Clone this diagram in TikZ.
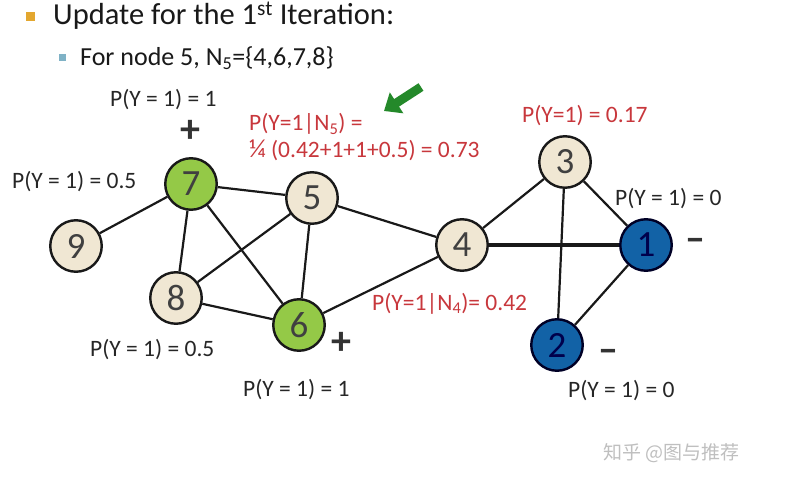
\documentclass[tikz,border=0pt]{standalone}
\usepackage{fontspec}
\setmainfont{Carlito}
\newfontfamily\cjkfont{Noto Sans CJK SC}
\usetikzlibrary{arrows.meta}
\definecolor{nbeige}{HTML}{F0E7D3}
\definecolor{ngreen}{HTML}{94C947}
\definecolor{nblue}{HTML}{1262A6}
\definecolor{lblred}{HTML}{C8373C}
\definecolor{arrgreen}{HTML}{24892A}
\definecolor{bulorange}{HTML}{E3A72F}
\definecolor{bulteal}{HTML}{7FB2C6}
\begin{document}
\begin{tikzpicture}[x=1pt,y=-1pt,
  vtx/.style={circle, draw=black!90, line width=2.4pt, minimum size=51.5pt, inner sep=0pt,
              font=\fontsize{37}{38}\selectfont, text=black!75},
  vbeige/.style={vtx, fill=nbeige},
  vgreen/.style={vtx, fill=ngreen},
  vblue/.style={vtx, fill=nblue, draw=black!85!blue, text=black!70!blue},
  edge/.style={line width=2.2pt, black!90},
  lbl/.style={inner sep=0pt, font=\fontsize{23.5}{26}\selectfont, text=black!85},
  rlbl/.style={inner sep=0pt, font=\fontsize{23.5}{26}\selectfont, text=lblred},
  sign/.style={inner sep=0pt, font=\fontsize{40}{40}\selectfont\bfseries, text=black!80},
]
\useasboundingbox (0,0) rectangle (793,484);
\fill[white] (0,0) rectangle (793,484);

% bullets
\fill[bulorange] (25.5,12.5) rectangle (34.5,21.5);
\node[inner sep=0pt, anchor=base west, font=\fontsize{30.5}{32}\selectfont, text=black!90] (t1) at (53,25)
  {Update for the 1\textsuperscript{st} Iteration:};
\fill[bulteal] (58.5,54.5) rectangle (65.5,61.5);
\node[inner sep=0pt, anchor=base west, font=\fontsize{26}{28}\selectfont, text=black!90] (t2) at (80,66)
  {For node 5, N\textsubscript{5}=\{4,6,7,8\}};

% vertices
\node[vgreen] (n7) at (191,184) {7};
\node[vbeige] (n5) at (312,198) {5};
\node[vbeige] (n9) at (76,246) {9};
\node[vbeige] (n8) at (176,298) {8};
\node[vgreen] (n6) at (299,325) {6};
\node[vbeige] (n4) at (462,245) {4};
\node[vbeige] (n3) at (565,162) {3};
\node[vblue]  (n1) at (646,245) {1};
\node[vblue]  (n2) at (557,345) {2};

% edges
\draw[edge] (n9) -- (n7);
\draw[edge] (n7) -- (n5);
\draw[edge] (n7) -- (n8);
\draw[edge] (n7) -- (n6);
\draw[edge] (n5) -- (n8);
\draw[edge] (n5) -- (n6);
\draw[edge] (n5) -- (n4);
\draw[edge] (n8) -- (n6);
\draw[edge] (n6) -- (n4);
\draw[edge] (n4) -- (n3);
\draw[edge, line width=4.8pt] (n4) -- (n1);
\draw[edge] (n3) -- (n1);
\draw[edge] (n3) -- (n2);
\draw[edge] (n1) -- (n2);

% labels
\node[lbl, anchor=base west] (l7top) at (110,107) {P(Y = 1) = 1};
\node[sign] (p7) at (190,131) {+};
\node[lbl, anchor=base west] (l7) at (12,189) {P(Y = 1) = 0.5};
\node[lbl, anchor=base west] (l8) at (90,356) {P(Y = 1) = 0.5};
\node[lbl, anchor=base west] (l6) at (243,396) {P(Y = 1) = 1};
\node[sign] (p6) at (341,343) {+};
\node[rlbl, anchor=base west] (r5a) at (249,131) {P(Y=1|N\textsubscript{5}) =};
\node[rlbl, anchor=base west] (r5b) at (249,158) {{\fontsize{26}{26}\selectfont ¼} (0.42+1+1+0.5) = 0.73};
\node[rlbl, anchor=base west] (r3) at (522,123) {P(Y=1) = 0.17};
\node[lbl, anchor=base west] (l1) at (615,206) {P(Y = 1) = 0};
\node[sign] (m1) at (695,245) {–};
\node[rlbl, anchor=base west] (r4) at (372,310) {P(Y=1|N\textsubscript{4})= 0.42};
\node[sign] (m2) at (608,356) {–};
\node[lbl, anchor=base west] (l2) at (568,397) {P(Y = 1) = 0};

% green arrow
\coordinate (atail) at (421,87);
\coordinate (ahead) at (384,111);
\draw[arrgreen, line width=9pt, -{Triangle[width=24pt,length=15pt]}] (atail) -- (ahead);

% watermark
\node[inner sep=0pt, anchor=base west, font=\cjkfont\fontsize{19}{20}\selectfont, text=black!25] (wm) at (603,459) {知乎 @图与推荐};
\end{tikzpicture}
\end{document}
